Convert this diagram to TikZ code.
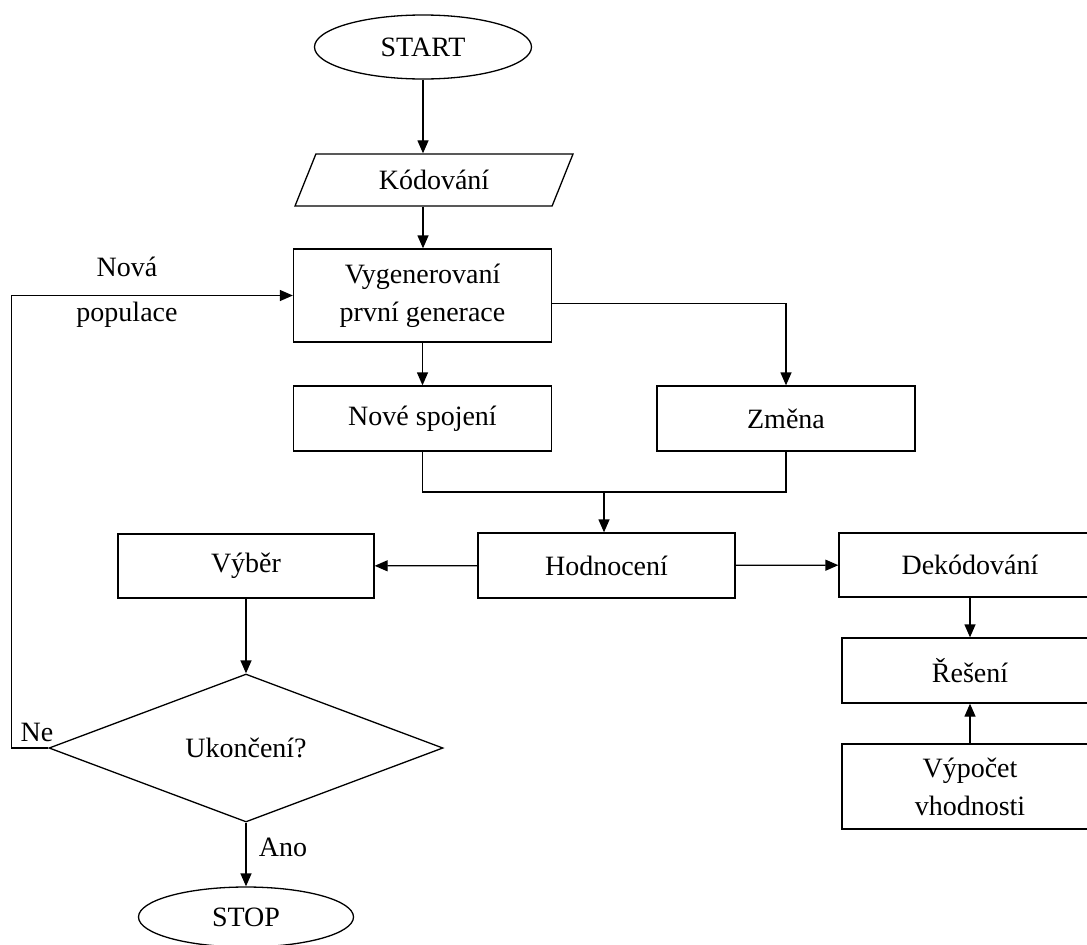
\documentclass[tikz,border=0pt]{standalone}
\usepackage{fontspec}
\setmainfont{Liberation Serif}
\usetikzlibrary{shapes.geometric,arrows.meta}
\begin{document}
\begin{tikzpicture}[x=1pt,y=-1pt,line width=1.3pt,
    font=\fontsize{28}{38}\selectfont,
    box/.style={draw,rectangle,minimum width=258pt,minimum height=65pt,inner sep=0pt,align=center},
    term/.style={draw,ellipse,minimum width=217pt,minimum height=64pt,inner sep=0pt},
    arr/.style={-{Triangle[length=13pt,width=11pt]}}]
      \useasboundingbox (0,0) rectangle (1087,945);
      \clip (0,0) rectangle (1087,945);
      \draw
        (423,47) node[term] (start){START}
        (434,180) node[draw,trapezium,trapezium left angle=43.4,trapezium right angle=136.6,
          trapezium stretches body,minimum width=278pt,minimum height=52pt,inner sep=0pt] (kod){Kódování}
        (422.5,295.5) node[box,minimum height=93pt] (vyg){Vygenerovaní\\první generace}
        (422.5,418.5) node[box] (nove){Nové spojení}
        (786,418.5) node[box] (zmena){Změna}
        (606.5,565.5) node[box,minimum width=257pt] (hod){Hodnocení}
        (246,566) node[box,minimum width=256pt,minimum height=64pt] (vyber){Výběr}
        (970,565) node[box,minimum width=262pt,minimum height=64pt] (dek){Dekódování}
        (970,670.5) node[box,minimum width=256pt] (res){Řešení}
        (970,786.5) node[box,minimum width=256pt,minimum height=85pt] (vyp){Výpočet\\vhodnosti}
        (246,748) node[draw,diamond,minimum width=394pt,minimum height=148pt,inner sep=0pt] (ukon){Ukončení?}
        (246,917) node[term,minimum width=215pt,minimum height=60pt] (stop){STOP}
        (127,292) node[align=center] (nova){Nová\\[7pt]populace}
        (37,732) node (ne){Ne}
        (283,847) node (ano){Ano};
      \coordinate (merge) at (604,492);
      \begin{scope}[arr]
        \draw (start) to (start |- kod.north);
        \draw (start |- kod.south) to (start |- vyg.north);
        \draw (vyg) to (nove);
        \draw ([yshift=-8pt]vyg.east) -| (zmena);
        \draw[-] (nove) |- (merge) -| (zmena);
        \draw (merge) to (merge |- hod.north);
        \draw (hod) to (vyber);
        \draw (hod) to (dek);
        \draw (dek) to (res);
        \draw (vyp) to (res);
        \draw (vyber) to (ukon);
        \draw (ukon) to (stop);
        \draw (ukon.west) -- ++(-37,0) |- (vyg.west);
      \end{scope}
    \end{tikzpicture}
\end{document}
